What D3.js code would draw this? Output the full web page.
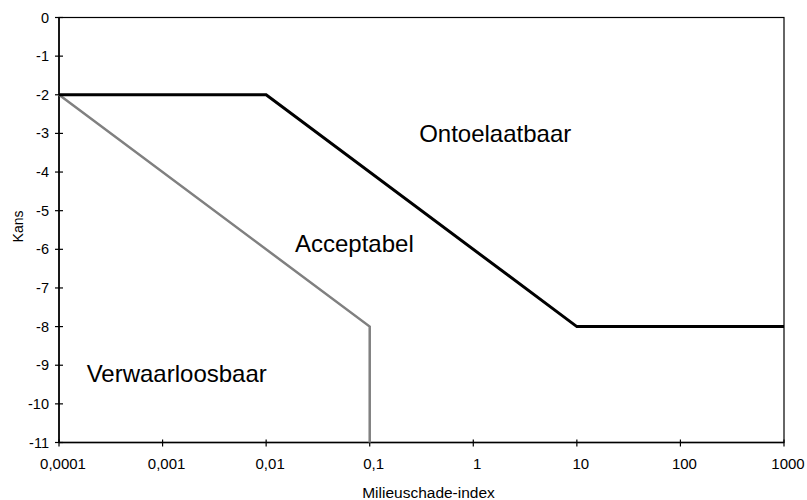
<!DOCTYPE html>
<html>
<head>
<meta charset="utf-8">
<script src="https://cdn.jsdelivr.net/npm/d3@7"></script>
<style>
  body { margin: 0; background: #fff; }
  text { font-family: "Liberation Sans", Arial, sans-serif; fill: #000; }
</style>
</head>
<body>
<svg id="chart" width="807" height="500"></svg>
<script>
// grenswaarden (x = milieuschade-index, y = kans als 10-log)
const xTicks = [0.0001, 0.001, 0.01, 0.1, 1, 10, 100, 1000];
const xTickLabels = ["0,0001", "0,001", "0,01", "0,1", "1", "10", "100", "1000"];
const yTicks = [0, -1, -2, -3, -4, -5, -6, -7, -8, -9, -10, -11];
const grensOntoelaatbaar = [[0.0001, -2], [0.01, -2], [10, -8], [1000, -8]];
const grensVerwaarloosbaar = [[0.0001, -2], [0.1, -8], [0.1, -11]];
const gebiedNamen = ["Ontoelaatbaar", "Acceptabel", "Verwaarloosbaar"];
const gebiedX = [0.3, 0.019, 0.000185];
const gebiedY = [-3.21, -6.06, -9.43];

const svg = d3.select("#chart");
const pLeft = 59, pRight = 784, pTop = 17.5, pBottom = 442.5;

const x = d3.scaleLog().domain([0.0001, 1000]).range([pLeft, pRight]);
const y = d3.scaleLinear().domain([-11, 0]).range([pBottom, pTop]);

// plot frame
svg.append("rect")
    .attr("x", pLeft).attr("y", pTop)
    .attr("width", pRight - pLeft).attr("height", pBottom - pTop)
    .attr("fill", "none").attr("stroke", "#000").attr("stroke-width", 1.2);

// y axis
const yAxis = svg.append("g");
yAxis.append("line")
    .attr("x1", pLeft).attr("x2", pLeft).attr("y1", pTop).attr("y2", pBottom)
    .attr("stroke", "#000").attr("stroke-width", 1.5);
yTicks.forEach(function(v) {
    yAxis.append("line")
        .attr("x1", pLeft - 4).attr("x2", pLeft + 4)
        .attr("y1", y(v)).attr("y2", y(v))
        .attr("stroke", "#000").attr("stroke-width", 1.2);
    yAxis.append("text")
        .attr("x", pLeft - 10).attr("y", y(v))
        .attr("text-anchor", "end").attr("dy", "0.35em")
        .attr("font-size", 14.5)
        .text(v);
});

// x axis
const xAxis = svg.append("g");
xAxis.append("line")
    .attr("x1", pLeft).attr("x2", pRight).attr("y1", pBottom).attr("y2", pBottom)
    .attr("stroke", "#000").attr("stroke-width", 1.5);
xTicks.forEach(function(v, i) {
    xAxis.append("line")
        .attr("x1", x(v)).attr("x2", x(v))
        .attr("y1", pBottom - 3).attr("y2", pBottom + 4)
        .attr("stroke", "#000").attr("stroke-width", 1.2);
    xAxis.append("text")
        .attr("x", x(v) + 4).attr("y", pBottom + 26.5)
        .attr("text-anchor", "middle")
        .attr("font-size", 15)
        .text(xTickLabels[i]);
});

// axis titles
svg.append("text")
    .attr("x", (pLeft + pRight) / 2 + 7).attr("y", 498)
    .attr("text-anchor", "middle").attr("font-size", 15.5)
    .text("Milieuschade-index");
svg.append("text")
    .attr("transform", "translate(23," + ((pTop + pBottom) / 2 - 3.5) + ") rotate(-90)")
    .attr("text-anchor", "middle").attr("font-size", 14)
    .text("Kans");

const line = d3.line().x(d => x(d[0])).y(d => y(d[1]));

svg.append("path")
    .datum(grensVerwaarloosbaar)
    .attr("d", line)
    .attr("fill", "none").attr("stroke", "#808080").attr("stroke-width", 2.5);

svg.append("path")
    .datum(grensOntoelaatbaar)
    .attr("d", line)
    .attr("fill", "none").attr("stroke", "#000").attr("stroke-width", 3);

gebiedNamen.forEach(function(naam, i) {
    svg.append("text")
        .attr("x", x(gebiedX[i])).attr("y", y(gebiedY[i]))
        .attr("font-size", 24)
        .text(naam);
});
</script>
</body>
</html>
